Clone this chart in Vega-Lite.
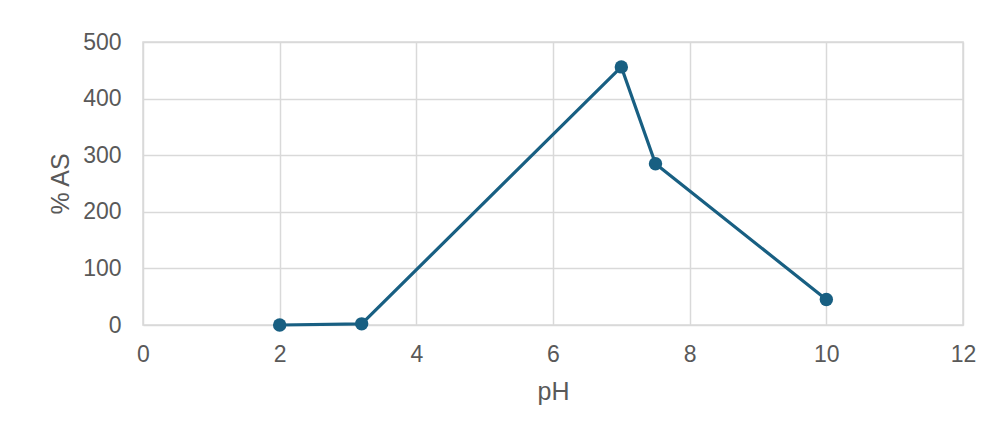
{
  "$schema": "https://vega.github.io/schema/vega-lite/v6.json",
  "autosize": "none",
  "width": 820,
  "height": 283,
  "padding": {"left": 143, "top": 42, "right": 29, "bottom": 113},
  "background": "white",
  "config": {
    "view": {"stroke": "#d9d9d9", "strokeWidth": 1.5},
    "font": "Liberation Sans"
  },
  "data": {
    "values": [
      {"pH": 2, "AS": 0},
      {"pH": 3.2, "AS": 2},
      {"pH": 7, "AS": 456},
      {"pH": 7.5, "AS": 285},
      {"pH": 10, "AS": 45}
    ]
  },
  "encoding": {
    "x": {
      "field": "pH",
      "type": "quantitative",
      "scale": {"domain": [0, 12], "nice": false},
      "axis": {
        "values": [0, 2, 4, 6, 8, 10, 12],
        "labelFlush": false,
        "domain": false, "ticks": false,
        "gridColor": "#d9d9d9", "gridWidth": 1.5,
        "labelColor": "#595959", "labelFontSize": 23, "labelFont": "Liberation Sans",
        "labelPadding": 18,
        "title": "pH", "titlePadding": 13,
        "titleColor": "#595959", "titleFontSize": 25, "titleFont": "Liberation Sans", "titleFontWeight": "normal"
      }
    },
    "y": {
      "field": "AS",
      "type": "quantitative",
      "scale": {"domain": [0, 500], "nice": false},
      "axis": {
        "values": [0, 100, 200, 300, 400, 500],
        "labelFlush": false,
        "domain": false, "ticks": false,
        "gridColor": "#d9d9d9", "gridWidth": 1.5,
        "labelColor": "#595959", "labelFontSize": 23, "labelFont": "Liberation Sans",
        "labelPadding": 22,
        "title": "% AS", "titlePadding": 9,
        "titleColor": "#595959", "titleFontSize": 25, "titleFont": "Liberation Sans", "titleFontWeight": "normal"
      }
    }
  },
  "layer": [
    {"mark": {"type": "line", "color": "#185f82", "strokeWidth": 3.2}},
    {"mark": {"type": "point", "filled": true, "color": "#185f82", "opacity": 1, "size": 180}}
  ]
}
